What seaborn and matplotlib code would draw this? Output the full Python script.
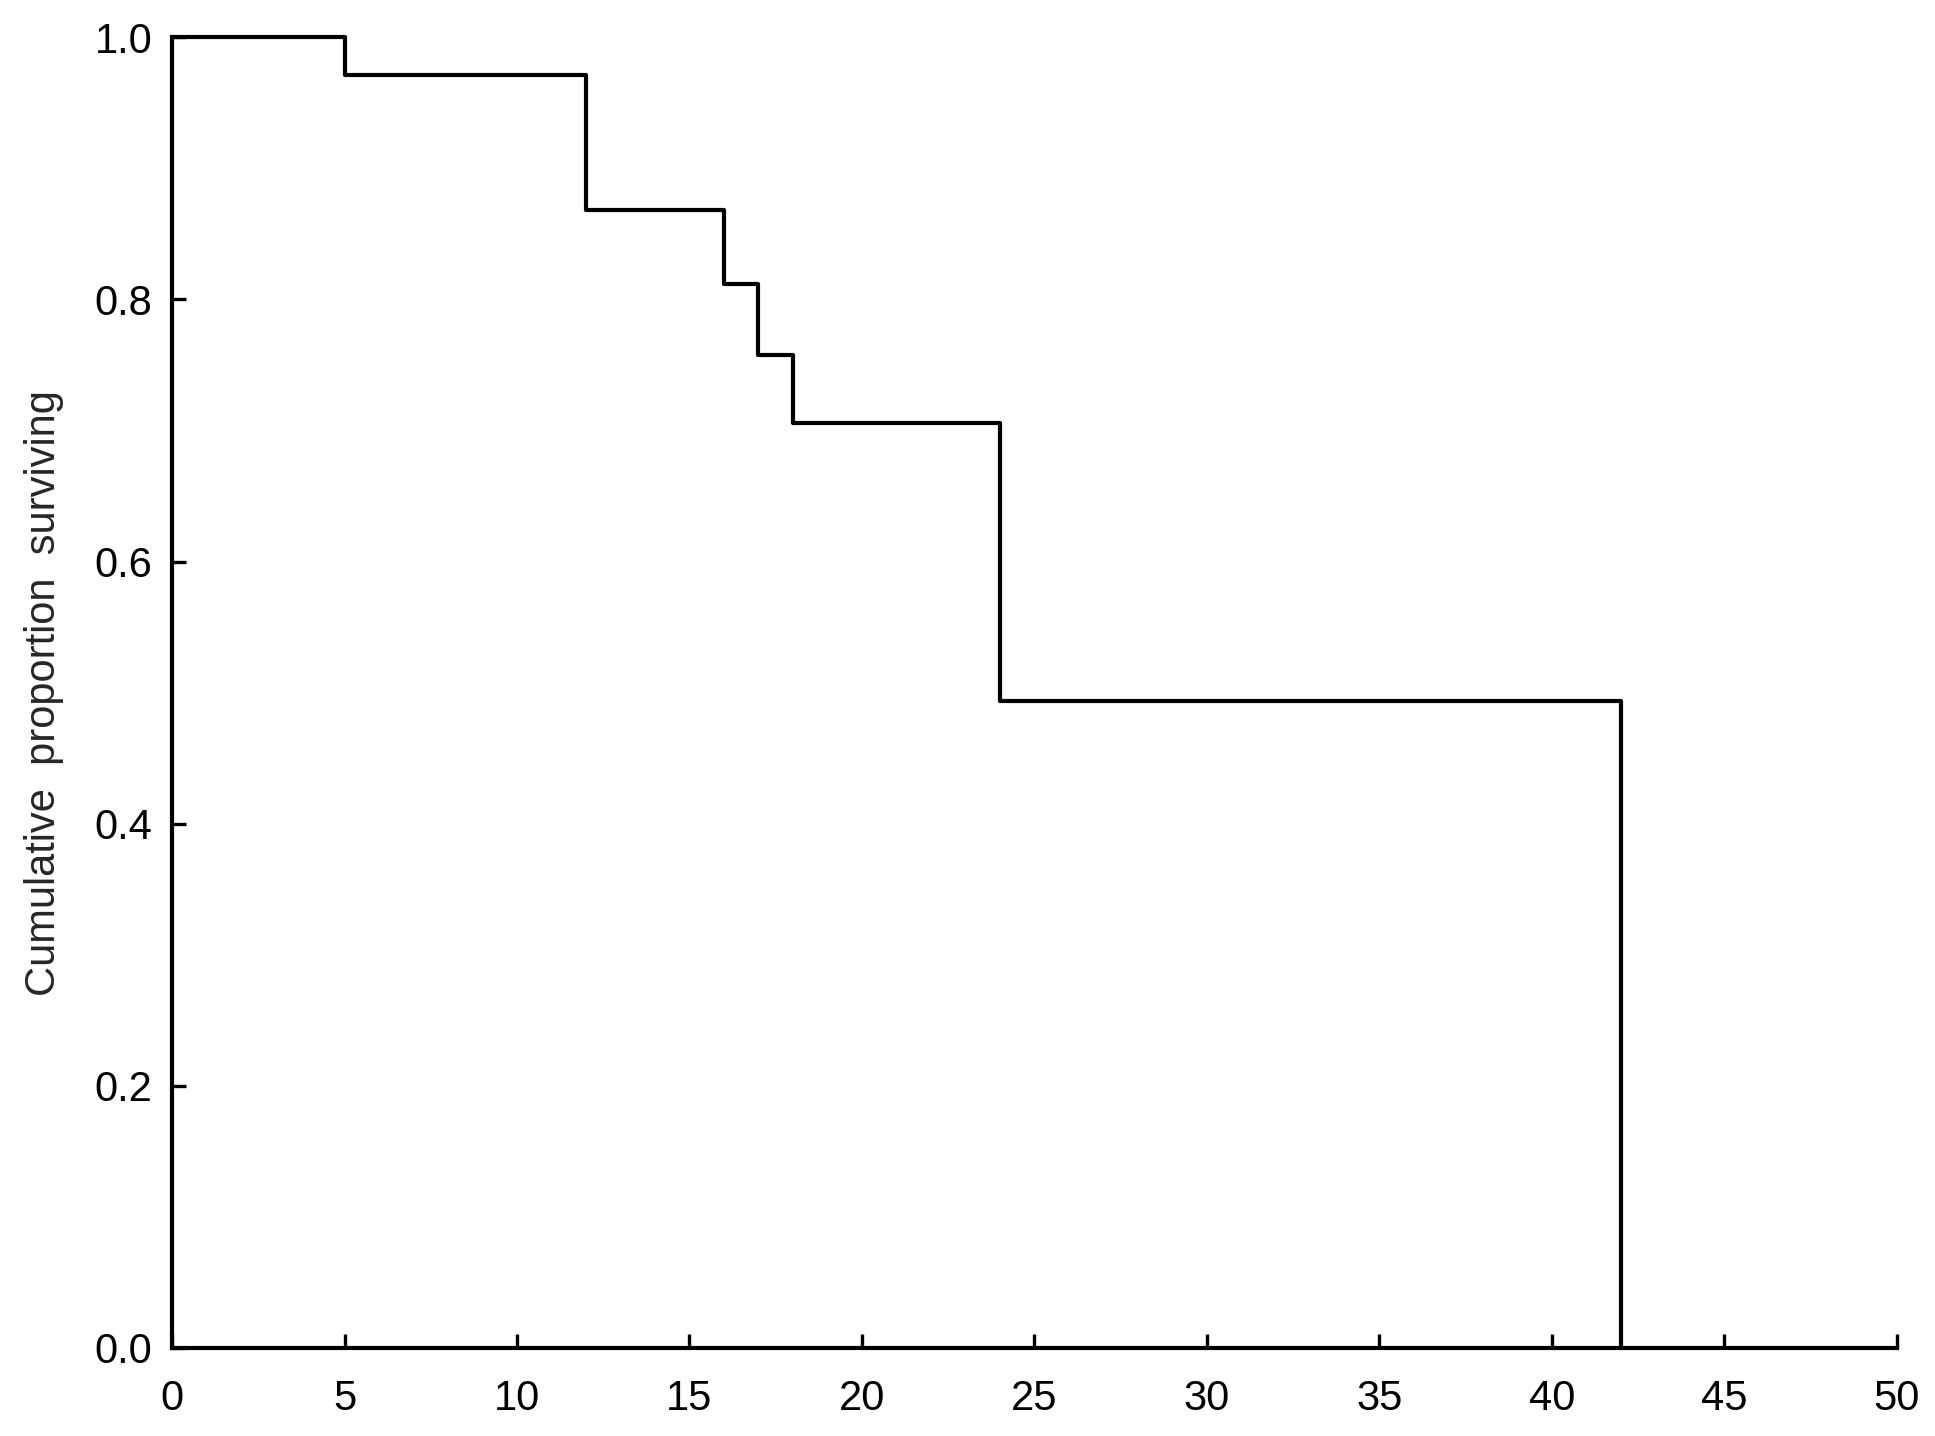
import matplotlib
matplotlib.use("Agg")
import matplotlib.pyplot as plt
import seaborn as sns
import pandas as pd

# Kaplan-Meier estimate
times = [0, 5, 12, 16, 17, 18, 24, 42]
surviving = [1.0, 0.971, 0.868, 0.812, 0.758, 0.706, 0.494, 0.0]
x_ticks = [0, 5, 10, 15, 20, 25, 30, 35, 40, 45, 50]
y_ticks = [0.0, 0.2, 0.4, 0.6, 0.8, 1.0]

df = pd.DataFrame({"time": times, "surv": surviving})

sns.set_style("white")
plt.rcParams['font.family'] = ['Liberation Sans', 'DejaVu Sans']

fig = plt.figure(figsize=(19.35, 14.36), dpi=100)
ax = fig.add_axes([0.0889, 0.0613, 0.8914, 0.9127])

sns.lineplot(data=df, x="time", y="surv", drawstyle="steps-post",
             color="black", linewidth=3.0, ax=ax)
for ln in ax.lines:
    ln.set_clip_on(False)  # keep the 1.0 segment from being cut in half

ax.set_xlim(0, 50)
ax.set_ylim(0, 1.0)
ax.set_xticks(x_ticks)
ax.set_xticklabels([str(t) for t in x_ticks])
ax.set_yticks(y_ticks)
ax.set_yticklabels([f"{t:.1f}" for t in y_ticks])
ax.tick_params(bottom=True, left=True, direction="in", length=10, width=2.4,
               labelsize=30, colors="black", pad=14)
ax.tick_params(axis="x", pad=22)

sns.despine(ax=ax)
for s in ["left", "bottom"]:
    ax.spines[s].set_linewidth(3.0)
    ax.spines[s].set_color("black")

ax.set_xlabel("")
ax.set_ylabel("Cumulative  proportion  surviving", fontsize=30, labelpad=22)

fig.savefig("out.png", dpi=100)
